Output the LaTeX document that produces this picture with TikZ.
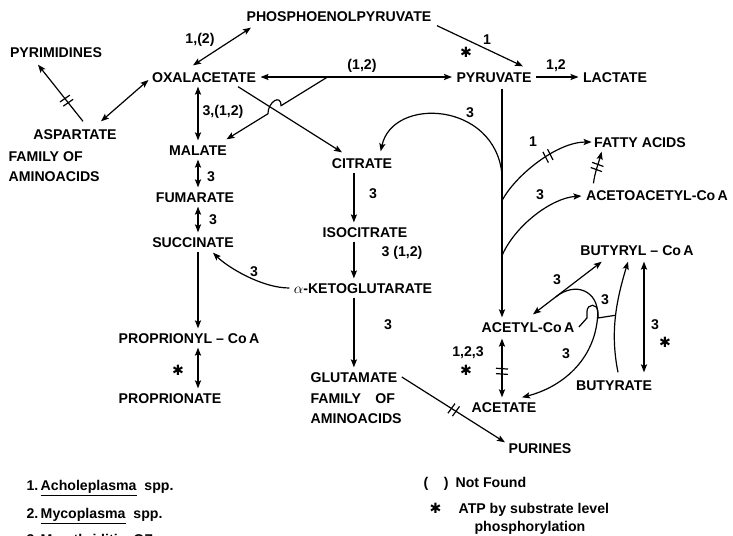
\documentclass[tikz,border=0pt]{standalone}
\usepackage{fontspec}
\setmainfont{Liberation Sans}
\newfontfamily\dingfont{DejaVu Sans}
\newcommand{\subatp}{{\dingfont\bfseries ✱}}
\usetikzlibrary{calc,positioning,arrows.meta,decorations.markings}

\begin{document}
\begin{tikzpicture}[x=0.75pt, y=-0.75pt, line width=0.9pt,
    >={Stealth[length=6pt,width=4.6pt,inset=1.2pt]},
    met/.style={inner sep=3pt, font=\fontsize{10.6}{15}\selectfont\bfseries,
        text height=7.6pt, text depth=0pt},
    metblock/.style={inner sep=3pt, align=left, font=\fontsize{10.6}{15}\selectfont\bfseries},
    lab/.style={inner sep=1pt, font=\fontsize{10.6}{13}\selectfont\bfseries},
    leg/.style={inner sep=0pt, anchor=base west, font=\fontsize{10.6}{13}\selectfont\bfseries},
    blocked/.style={postaction={decorate, decoration={markings,
        mark=at position #1 with {\draw[-, line width=0.9pt]
            (-2pt,-4.5pt) -- (-1.4pt,4.5pt) (2pt,-4.5pt) -- (2.6pt,4.5pt);}}}}
]
    \fill[white] (0,0) rectangle (733,536);
    \useasboundingbox (0,0) rectangle (733,536);

    % Metabolites
    \node[met] (Pep) at (339,16) {PHOSPHOENOLPYRUVATE};
    \node[met] (Pyrimidines) at (56,52) {PYRIMIDINES};
    \node[met] (Oxal) at (204,77) {OXALACETATE};
    \node[met] (Pyruvate) at (494,77) {PYRUVATE};
    \node[met] (Lactate) at (615,77) {LACTATE};
    \node[met] (Aspartate) at (75,134) {ASPARTATE};
    \node[metblock, anchor=west] (AspFamily) at (4,167) {FAMILY OF\\AMINOACIDS};
    \node[met] (Malate) at (198,150) {MALATE};
    \node[met] (Fumarate) at (195,197) {FUMARATE};
    \node[met] (Succinate) at (193,242) {SUCCINATE};
    \node[met] (Citrate) at (362,163) {CITRATE};
    \node[met] (Isocitrate) at (365,232) {ISOCITRATE};
    \node[met] (Ketoglut) at (363,288) {$\alpha$-KETOGLUTARATE};
    \node[met] (PropCoA) at (189,338) {PROPRIONYL -- Co\,A};
    \node[met] (Propionate) at (170,398) {PROPRIONATE};
    \node[met, anchor=west] (Glutamate) at (306,377) {GLUTAMATE};
    \node[metblock,
        below right=2pt and 0pt of Glutamate.south west
    ] (GluFamily) {FAMILY\quad OF\\AMINOACIDS};
    \node[met] (Purines) at (540,448) {PURINES};
    \node[met] (Acetate) at (504,407) {ACETATE};
    \node[met] (Butyrate) at (614,385) {BUTYRATE};
    \node[met] (AcetylCoA) at (528,327) {ACETYL-Co\,A};
    \node[met] (ButyrylCoA) at (637,250) {BUTYRYL -- Co\,A};
    \node[met] (AcetoacetylCoA) at (657,195) {ACETOACETYL-Co\,A};
    \node[met] (FattyAcids) at (640,142) {FATTY ACIDS};

    % Oxalacetate side
    \draw[<->] ($(Oxal.north)+(-11,-2)$) -- ($(Pep.south west)+(9,2)$);
    \draw[<->] ($(Oxal.west)+(1,3)$) -- ($(Aspartate.north)+(26,-3)$);
    \draw[->, blocked=0.36] ($(Aspartate.north)+(8,-3)$) -- ($(Pyrimidines.south)+(-18,3)$);
    \draw[<->] (Oxal.south -| Malate.north) -- (Malate.north);
    \draw[<->] (Malate.south) -- (Malate.south |- Fumarate.north);
    \draw[<->] (Malate.south |- Fumarate.south) -- (Malate.south |- Succinate.north);
    \draw[->] (Malate.south |- Succinate.south) -- (Malate.south |- PropCoA.north);
    \draw[<->] (Malate.south |- PropCoA.south) -- (Malate.south |- Propionate.north);

    \draw[<->] (Oxal.east) -- (Pyruvate.west);
    \coordinate (OxMalJunc) at ($(Oxal.east)!0.35!(Pyruvate.west)$);
    \coordinate (MalEnd) at ($(Malate.north east)+(-5,-1)$);
    \draw[->] (OxMalJunc) -- ($(OxMalJunc)!0.46!(MalEnd)$)
        .. controls +(0,-12) and +(0,-12) .. ($(OxMalJunc)!0.59!(MalEnd)$) -- (MalEnd);
    \draw[->] ($(Oxal.south)+(34,0)$) -- ($(Citrate.north)+(-20,-1)$);

    % Citric acid cycle
    \draw[->] (Citrate.south -| Glutamate.north) -- (Isocitrate.north -| Glutamate.north);
    \draw[->] (Isocitrate.south -| Glutamate.north) -- (Ketoglut.north -| Glutamate.north);
    \draw[->] (Ketoglut.south -| Glutamate.north) -- (Glutamate.north);
    \draw[->] (Ketoglut.west) .. controls +(-28,0) and +(14,14) .. ($(Succinate.south)+(20,1)$);
    \draw[->, blocked=0.5] (Glutamate.east) -- ($(Purines.north west)+(1,4)$);

    % Pyruvate side
    \draw[->] ($(Pep.south east)+(1,0)$) -- ($(Pyruvate.north)+(29,-1)$);
    \draw[->] (Pyruvate.east) -- (Lactate.west);
    \coordinate (PyrBase) at ($(Pyruvate.south)+(8,2)$);
    \coordinate (AcetylTop) at (PyrBase |- AcetylCoA.north);
    \draw[->] (PyrBase) -- (AcetylTop);
    \coordinate (TrunkCit) at ($(PyrBase)!0.375!(AcetylTop)$);
    \coordinate (TrunkFat) at ($(PyrBase)!0.49!(AcetylTop)$);
    \coordinate (TrunkAcac) at ($(PyrBase)!0.73!(AcetylTop)$);
    \draw[->] (TrunkCit) .. controls +(-7,-73) and +(12,-55) .. ($(Citrate.north east)+(-16,-2)$);
    \draw[->, blocked=0.58] (TrunkFat) .. controls +(13,-25) and +(-35,0) .. ($(FattyAcids.west)+(2,0)$);
    \draw[->] (TrunkAcac) .. controls +(13,-30) and +(-30,2) .. ($(AcetoacetylCoA.west)+(0,1)$);
    \draw[->, blocked=0.5] ($(AcetoacetylCoA.north west)+(12,-2)$)
        .. controls +(1,-10) and +(-2,8) .. ($(FattyAcids.south west)+(12,0)$);

    % Acetyl-CoA and butyrate
    \coordinate (AcBuA) at ($(AcetylCoA.north)+(5,-3)$);
    \coordinate (AcBuB) at ($(ButyrylCoA.south west)+(26,2)$);
    \draw[<->] (AcBuA) -- (AcBuB);
    \coordinate (AcBuJunc) at ($(AcBuA)!0.33!(AcBuB)$);
    \draw[->] (AcBuJunc) .. controls +(20,-16) and +(1,-25) .. ++(42,19)
        .. controls +(-3,45) and +(39,-10) .. ($(Acetate.north)+(18,0)$);
    \coordinate (ButJunc) at ($(Butyrate.north)+(1,-60)$);
    \draw (AcetylCoA.east) -- ++(8,-9) -- ++(0,-6)
        .. controls +(0,-9) and +(0,-9) .. ++(11,0) -- ++(0,6) -- (ButJunc);
    \draw[->] ($(Butyrate.north)+(4,-3)$) .. controls +(-8,-40) and +(-12,40) .. ($(ButyrylCoA.south)+(-9,2)$);
    \draw[<->] ($(ButyrylCoA.south)+(7,2)$) -- ($(Butyrate.north)+(30,-3)$);
    \draw[<->, blocked=0.55] ($(AcetylCoA.south)+(-26,2)$) -- ($(Acetate.north)+(-2,0)$);

    % Labels
    \node[lab] (LabOxPep) at (200,40) {1,(2)};
    \node[lab] (LabOxPyr) at (362,66) {(1,2)};
    \node[lab] (LabPepPyr) at (487,40) {1};
    \node[lab] (StarPepPyr) at (466,52) {\subatp};
    \node[lab] (LabPyrLac) at (556,66) {1,2};
    \node[lab] (LabOxMal) at (223,112) {3,(1,2)};
    \node[lab] (LabMalFum) at (211,177) {3};
    \node[lab] (LabFumSuc) at (213,220) {3};
    \node[lab] (LabPyrCit) at (470,113) {3};
    \node[lab] (LabFat) at (533,142) {1};
    \node[lab] (LabAcac) at (540,195) {3};
    \node[lab] (LabCitIso) at (373,194) {3};
    \node[lab] (LabIsoKg) at (402,253) {3 (1,2)};
    \node[lab] (LabKgSuc) at (254,272) {3};
    \node[lab] (LabKgGlu) at (388,325) {3};
    \node[lab] (StarProp) at (178,370) {\subatp};
    \node[lab] (LabAcBu) at (557,280) {3};
    \node[lab] (LabBuTrans) at (605,300) {3};
    \node[lab] (LabAcArc) at (566,354) {3};
    \node[lab] (LabBuBu) at (655,325) {3};
    \node[lab] (StarBuBu) at (665,342) {\subatp};
    \node[lab] (LabAcAc) at (468,353) {1,2,3};
    \node[lab] (StarAcAc) at (466,370) {\subatp};

    % Legend
    \node[leg] (LegendAchole) at (26,490.5) {1.\,\underline{Acholeplasma}\ \ spp.};
    \node[leg] (LegendMyco) at (26,518.5) {2.\,\underline{Mycoplasma}\ \ spp.};
    \node[leg] (LegendArth) at (26,544) {3.\,M.\ arthriditis\ \ OZ};
    \node[leg] (LegendNotFound) at (423,487.5) {(\hspace{1.1em})\hspace{0.5em}Not Found};
    \node[leg] (LegendStar) at (429,513.5) {\subatp};
    \node[leg] (LegendAtp) at (458,513.5) {ATP by substrate level};
    \node[leg] (LegendPhos) at (474,531) {phosphorylation};
\end{tikzpicture}
\end{document}
